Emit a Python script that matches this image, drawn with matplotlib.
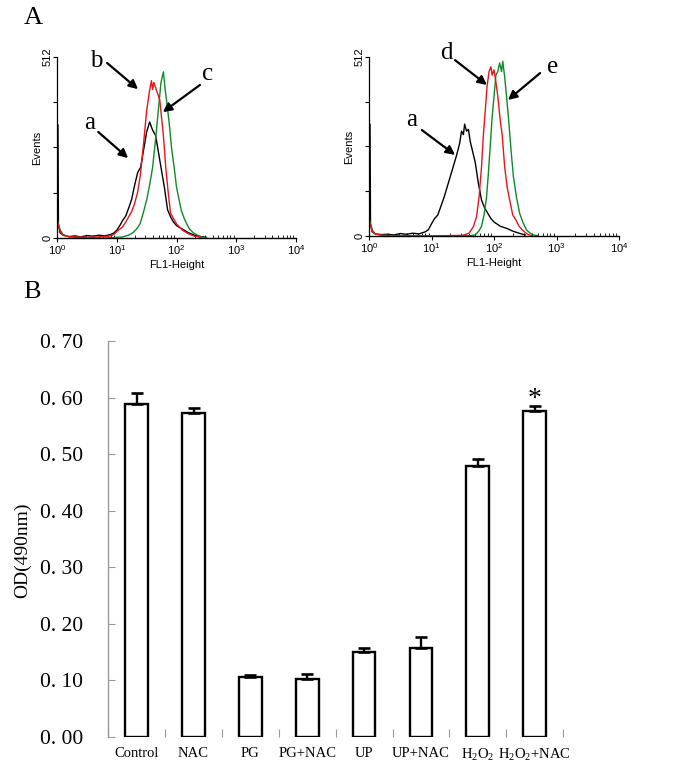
import matplotlib
matplotlib.use('Agg')
import matplotlib.pyplot as plt
from matplotlib.ticker import FuncFormatter, FixedLocator, NullFormatter, LogLocator
import numpy as np

plt.rcParams['mathtext.fontset'] = 'custom'
plt.rcParams['mathtext.rm'] = 'Liberation Serif'
plt.rcParams['mathtext.sf'] = 'Liberation Sans'
plt.rcParams['mathtext.it'] = 'Liberation Serif:italic'

# Dados - histogramas (log10 do canal FL1, contagem)
esq_a_log = [0.008, 0.016, 0.024, 0.05, 0.1, 0.2, 0.3, 0.4, 0.5, 0.6, 0.7, 0.8, 0.9, 0.95, 1.0, 1.05, 1.1,
             1.15, 1.2, 1.25, 1.3, 1.35, 1.4, 1.45, 1.5, 1.55, 1.6, 1.65, 1.7, 1.75, 1.8, 1.85, 1.9, 1.95, 2.0,
             2.1, 2.2, 2.3, 2.4, 2.5]
esq_a_cnt = [320, 320, 40, 15, 8, 4, 6, 3, 7, 5, 8, 6, 10, 14, 22, 35, 50, 62, 85, 110, 150, 185, 200, 250,
             300, 328, 305, 290, 240, 190, 140, 80, 60, 45, 35, 25, 15, 8, 4, 2]
esq_b_log = [0.01, 0.03, 0.06, 0.1, 0.2, 0.3, 0.5, 0.7, 0.9, 0.95, 1.0, 1.05, 1.1, 1.15, 1.2, 1.25, 1.3, 1.35,
             1.4, 1.45, 1.5, 1.55, 1.58, 1.6, 1.62, 1.65, 1.68, 1.72, 1.75, 1.78, 1.82, 1.86, 1.9, 1.95, 2.0,
             2.1, 2.2, 2.3, 2.4]
esq_b_cnt = [45, 30, 18, 8, 4, 3, 2, 3, 6, 10, 18, 25, 32, 45, 60, 75, 98, 130, 185, 270, 360, 418, 445, 420,
             440, 425, 410, 390, 340, 290, 200, 130, 70, 55, 40, 22, 12, 5, 2]
esq_c_log = [0.01, 0.03, 0.06, 0.1, 0.2, 0.4, 0.8, 1.1, 1.2, 1.27, 1.33, 1.39, 1.45, 1.5, 1.55, 1.6, 1.65, 1.7,
             1.74, 1.78, 1.81, 1.84, 1.88, 1.92, 1.96, 2.0, 2.04, 2.08, 2.13, 2.17, 2.22, 2.28, 2.35, 2.42, 2.5]
esq_c_cnt = [50, 35, 20, 10, 3, 1, 0, 3, 8, 15, 25, 40, 75, 107, 150, 200, 280, 370, 440, 470, 420, 380, 320,
             250, 200, 144, 110, 78, 55, 40, 25, 15, 8, 3, 1]

dir_a_log = [0.008, 0.016, 0.024, 0.05, 0.1, 0.2, 0.3, 0.4, 0.5, 0.6, 0.7, 0.8, 0.9, 0.95, 1.0, 1.05, 1.1,
             1.15, 1.2, 1.25, 1.3, 1.35, 1.4, 1.45, 1.48, 1.51, 1.53, 1.56, 1.59, 1.62, 1.66, 1.7, 1.75, 1.8,
             1.85, 1.9, 1.95, 2.0, 2.1, 2.2, 2.3, 2.4, 2.5]
dir_a_cnt = [320, 320, 35, 12, 6, 4, 5, 3, 7, 5, 8, 6, 12, 18, 35, 50, 60, 85, 110, 140, 170, 200, 230, 265,
             300, 290, 320, 300, 305, 270, 240, 210, 150, 103, 80, 65, 50, 40, 28, 22, 14, 8, 3]
dir_d_log = [0.01, 0.03, 0.06, 0.1, 0.2, 0.4, 1.0, 1.5, 1.6, 1.67, 1.72, 1.76, 1.8, 1.83, 1.86, 1.89, 1.92,
             1.95, 1.97, 2.0, 2.03, 2.06, 2.1, 2.13, 2.17, 2.21, 2.25, 2.3, 2.35, 2.4, 2.45, 2.5, 2.55, 2.6]
dir_d_cnt = [40, 25, 12, 6, 2, 1, 0, 2, 8, 27, 55, 110, 198, 290, 360, 430, 470, 484, 460, 475, 440, 400, 330,
             290, 198, 140, 103, 60, 46, 28, 18, 10, 4, 1]
dir_e_log = [0.01, 0.03, 0.06, 0.1, 0.2, 0.4, 1.0, 1.6, 1.7, 1.76, 1.8, 1.84, 1.88, 1.91, 1.94, 1.97, 2.0,
             2.03, 2.06, 2.09, 2.12, 2.14, 2.17, 2.2, 2.23, 2.27, 2.31, 2.36, 2.41, 2.46, 2.52, 2.58, 2.63, 2.7]
dir_e_cnt = [45, 30, 15, 6, 2, 1, 0, 1, 3, 15, 28, 60, 110, 180, 260, 340, 400, 460, 470, 495, 470, 500, 455,
             400, 340, 250, 170, 110, 65, 40, 17, 8, 3, 1]

# Dados - barras
grupos = ['Control', 'NAC', 'PG', 'PG+NAC', 'UP', 'UP+NAC', r'H$_2$O$_2$', r'H$_2$O$_2$+NAC']
medias = [0.589, 0.573, 0.106, 0.103, 0.151, 0.157, 0.479, 0.576]
erros = [0.019, 0.009, 0.004, 0.008, 0.006, 0.019, 0.012, 0.009]
yticks_barras = [0.0, 0.1, 0.2, 0.3, 0.4, 0.5, 0.6, 0.7]

fig = plt.figure(figsize=(6.85, 7.69), dpi=100)

vermelho = '#e8141c'
verde = '#0f8a2a'


def histograma(ax, curvas, setas):
    for xs, ys, cor in curvas:
        ax.plot(10 ** np.array(xs), ys, color=cor, lw=1.0)
    ax.set_xscale('log')
    ax.set_xlim(1, 1e4)
    ax.set_ylim(0, 512)
    for s in ['top', 'right']:
        ax.spines[s].set_visible(False)
    ax.spines['left'].set_linewidth(0.9)
    ax.spines['bottom'].set_linewidth(1.0)
    ax.set_xticks([1, 10, 100, 1000, 10000])
    ax.set_xticklabels([r'$\mathsf{10^{%d}}$' % i for i in range(5)], fontsize=8)
    ax.xaxis.set_minor_locator(LogLocator(base=10, subs=np.arange(2, 10)))
    ax.xaxis.set_minor_formatter(NullFormatter())
    ax.tick_params(axis='x', which='major', direction='out', length=3, pad=1)
    ax.tick_params(axis='x', which='minor', direction='in', length=2)
    ax.set_yticks([0, 128, 256, 384, 512])
    ax.set_yticklabels(['0', '', '', '', '512'], rotation=90, va='center', fontsize=8,
                       family='Liberation Sans')
    ax.tick_params(axis='y', direction='out', length=3, pad=0.5)
    ax.set_xlabel('FL1-Height', fontsize=8, family='Liberation Sans', labelpad=2)
    ax.set_ylabel('Events', fontsize=8, family='Liberation Sans', labelpad=0)
    for letra, txt, cauda, ponta in setas:
        ax.text(txt[0], txt[1], letra, fontsize=18, family='Liberation Serif',
                ha='center', va='center', clip_on=False)
        ax.annotate('', xy=ponta, xytext=cauda,
                    arrowprops=dict(arrowstyle='-|>', color='k', lw=1.6, mutation_scale=13,
                                    shrinkA=0, shrinkB=0), annotation_clip=False)


ax1 = fig.add_axes([0.0832, 0.6905, 0.349, 0.2354])
histograma(ax1,
           [(esq_a_log, esq_a_cnt, 'black'), (esq_c_log, esq_c_cnt, verde), (esq_b_log, esq_b_cnt, vermelho)],
           [('a', (3.5, 325), (4.9, 300), (15.5, 226)),
            ('b', (4.6, 500), (6.9, 495), (22.7, 421)),
            ('c', (330, 464), (247, 433), (59, 356))])

ax2 = fig.add_axes([0.5387, 0.6931, 0.365, 0.2328])
histograma(ax2,
           [(dir_a_log, dir_a_cnt, 'black'), (dir_e_log, dir_e_cnt, verde), (dir_d_log, dir_d_cnt, vermelho)],
           [('a', (4.8, 332), (7.0, 303), (23.8, 232)),
            ('d', (17.5, 522), (23.8, 503), (77, 432)),
            ('e', (860, 482), (546, 466), (167, 389))])

# Gráfico de barras
ax3 = fig.add_axes([0.158, 0.0416, 0.664, 0.515])
pos = np.arange(len(grupos)) + 0.5
ax3.bar(pos, medias, width=0.4, color='white', edgecolor='black', linewidth=1.7,
        yerr=[np.zeros(len(erros)), erros], error_kw=dict(ecolor='black', elinewidth=1.7,
                                                         capsize=4.5, capthick=1.9))
ax3.text(pos[-1], medias[-1] + erros[-1] + 0.011, '*', ha='center', va='center', fontsize=20,
         family='Liberation Serif')
ax3.set_xlim(0, len(grupos))
ax3.set_ylim(0, 0.7)
for s in ['top', 'right', 'bottom']:
    ax3.spines[s].set_visible(False)
ax3.spines['left'].set_color('#999999')
ax3.spines['left'].set_linewidth(1.0)
ax3.set_yticks(yticks_barras)
ax3.yaxis.set_major_formatter(FuncFormatter(lambda v, p: ('%.2f' % v).replace('.', '. ')))
ax3.tick_params(axis='y', direction='in', length=5, color='#999999', pad=18, labelsize=15.5)
for lab in ax3.get_yticklabels():
    lab.set_family('Liberation Serif')
ax3.xaxis.set_major_locator(FixedLocator(np.arange(len(grupos) + 1)))
ax3.xaxis.set_major_formatter(NullFormatter())
ax3.set_xticks(pos, minor=True)
ax3.set_xticklabels(grupos, minor=True, fontsize=10.5, family='Liberation Serif')
ax3.tick_params(axis='x', which='major', direction='in', length=6, color='#999999')
ax3.tick_params(axis='x', which='minor', length=0, pad=7)
ax3.set_ylabel('OD(490nm)', fontsize=14, family='Liberation Serif')
ax3.yaxis.set_label_coords(-0.17, 0.472)

fig.text(33 / 685, 1 - 18 / 769, 'A', fontsize=19, family='Liberation Serif', ha='center', va='center')
fig.text(32 / 685, 1 - 292 / 769, 'B', fontsize=19, family='Liberation Serif', ha='center', va='center')

plt.savefig('out.png', dpi=100)
